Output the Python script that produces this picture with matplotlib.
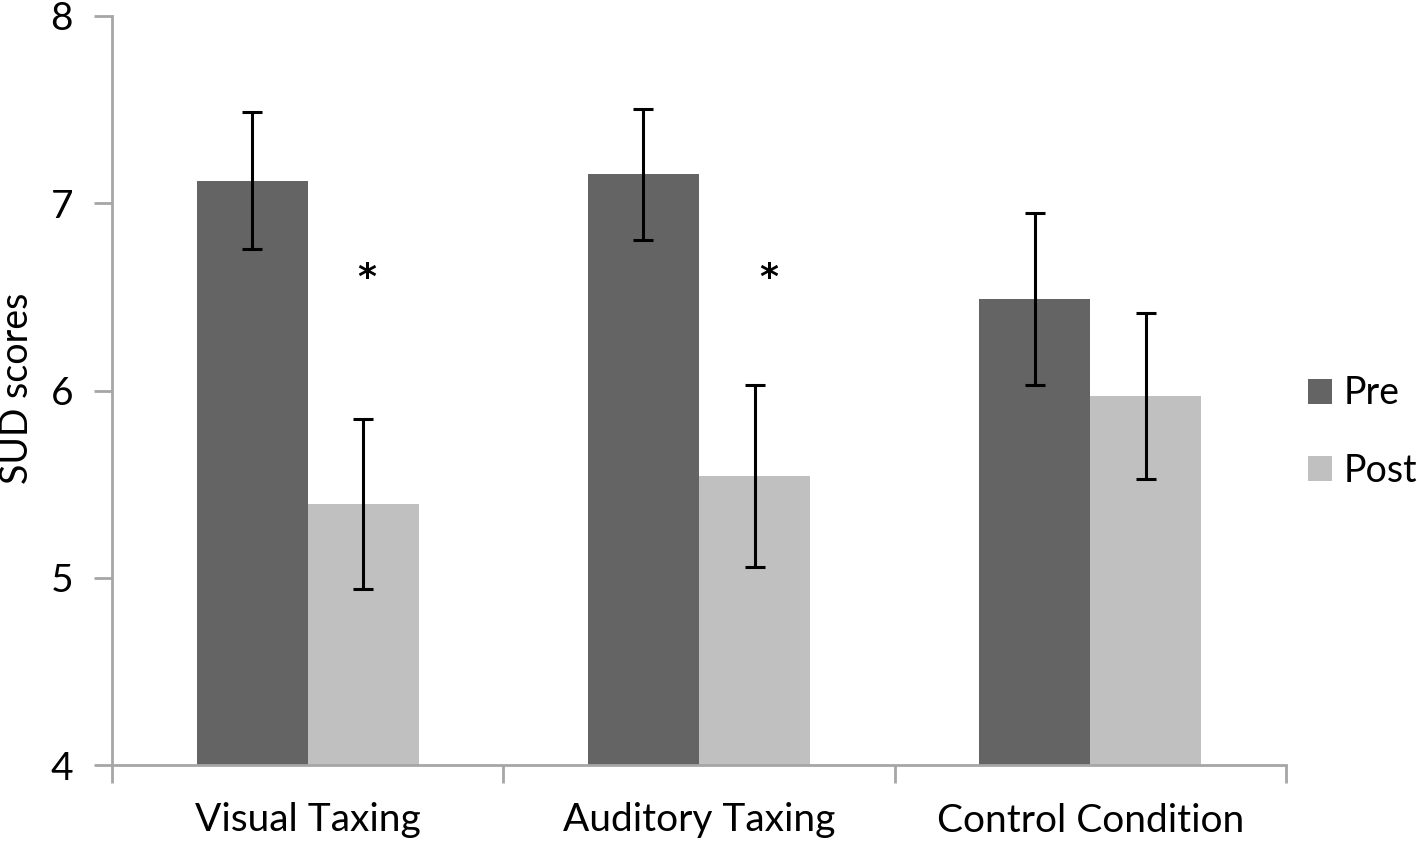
import matplotlib
matplotlib.use("Agg")
import matplotlib.pyplot as plt
import numpy as np

categories = ["Visual Taxing", "Auditory Taxing", "Control Condition"]
pre_means = [7.12, 7.155, 6.49]
pre_err = [0.365, 0.35, 0.46]
post_means = [5.395, 5.545, 5.97]
post_err = [0.455, 0.485, 0.445]
significant = [True, True, False]
yticks = [4, 5, 6, 7, 8]

plt.rcParams['font.family'] = ['Lato', 'DejaVu Sans']

fig = plt.figure(figsize=(14.17, 8.41), dpi=100)
ax = fig.add_axes([112/1417, 1-765/841, (1286-112)/1417, (765-16)/841])

x = np.arange(len(categories))
w = 0.284
ekw = dict(elinewidth=2.2, capthick=2.2, ecolor='black')
ax.bar(x - w/2, np.array(pre_means) - 4, w, bottom=4, color='#646464', label='Pre',
       yerr=pre_err, capsize=7, error_kw=ekw)
ax.bar(x + w/2, np.array(post_means) - 4, w, bottom=4, color='#c0c0c0', label='Post',
       yerr=post_err, capsize=7, error_kw=ekw)

offs = [0.01, 0.035, 0]
for i, s in enumerate(significant):
    if s:
        ax.text(x[i] + w/2 + offs[i], 6.60, '*', ha='center', va='center', fontsize=26,
                fontweight='bold', family='DejaVu Sans')

ax.set_xlim(-0.5, len(categories) - 0.5)
ax.set_ylim(4, 8)
ax.set_yticks(yticks)
ax.set_yticklabels([str(t) for t in yticks], fontsize=28)
ax.set_xticks(x)
ax.set_xticklabels(categories, fontsize=28)
ax.set_xticks(np.arange(len(categories) + 1) - 0.5, minor=True)
ax.tick_params(axis='x', which='major', length=0, pad=27)
ax.tick_params(axis='x', which='minor', length=13, width=2, color='#a6a6a6')
ax.tick_params(axis='y', length=13, width=2, color='#a6a6a6', pad=15)
for sp in ['top', 'right']:
    ax.spines[sp].set_visible(False)
for sp in ['left', 'bottom']:
    ax.spines[sp].set_color('#a6a6a6')
    ax.spines[sp].set_linewidth(2)
ax.set_ylabel('SUD scores', fontsize=27, va='center')
ax.yaxis.set_label_coords((17 - 112) / 1174, (765 - 388) / 749)

leg = fig.legend(loc='center left', bbox_to_anchor=(1308/1417, 1-432/841), frameon=False,
                 fontsize=27, handlelength=0.64, handleheight=0.64, handletextpad=0.3,
                 labelspacing=1.1, borderaxespad=0, borderpad=0)

fig.savefig('out.png', dpi=100)
